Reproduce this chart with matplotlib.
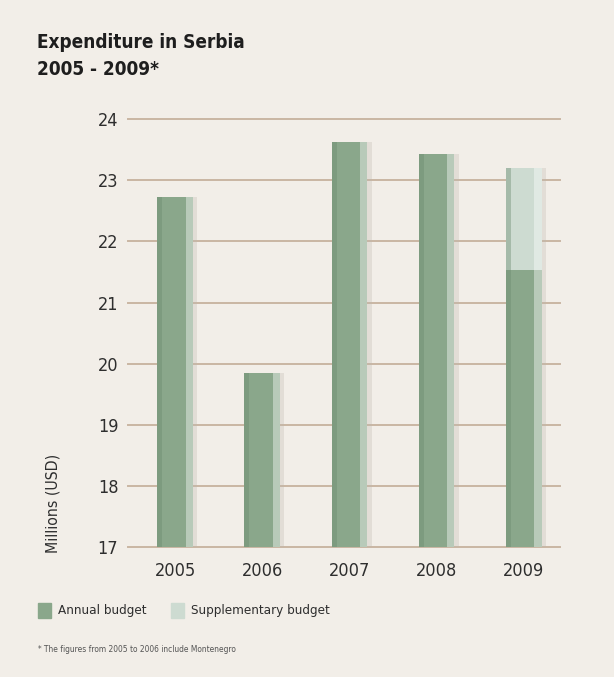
import numpy as np
import matplotlib.pyplot as plt

plt.rcParams['font.family'] = ['DejaVu Sans']
plt.rcParams['font.stretch'] = 'condensed'

# data
years = ['2005', '2006', '2007', '2008', '2009']
annual = [22.72, 19.84, 23.62, 23.43, 21.54]
supplementary = [0, 0, 0, 0, 1.66]
yticks = [17, 18, 19, 20, 21, 22, 23, 24]

base = 17
bg = '#f2eee8'
green = '#8aa78b'
light = '#cddbd1'
grid_col = '#c9b6a3'
txt = '#2e2e2e'

fig = plt.figure(figsize=(6.14, 6.77), dpi=100, facecolor=bg)
ax = fig.add_axes([0.2085, 0.192, 0.704, 0.632])
ax.set_facecolor(bg)

x = np.arange(len(years))
w = 0.41
annual_h = np.array(annual) - base
tops = np.array(annual) + np.array(supplementary)

# drop shadow on the right
ax.bar(x + 0.05, tops - base, w, bottom=base, color='#bdb7ae', alpha=0.3, zorder=2, linewidth=0)
ax.bar(x, annual_h, w, bottom=base, color=green, zorder=3, linewidth=0)
ax.bar(x, supplementary, w, bottom=annual, color=light, zorder=3, linewidth=0)

# soft shading on the bars: darker left edge, light strip on the right
ax.bar(x - w * 0.43, tops - base, w * 0.14, bottom=base, color='#6a8a6e', alpha=0.4, zorder=4, linewidth=0)
ax.bar(x + w * 0.4, tops - base, w * 0.2, bottom=base, color='white', alpha=0.4, zorder=4, linewidth=0)

ax.set_ylim(17, 24)
ax.set_xlim(-0.54, 4.42)
ax.set_yticks(yticks)
ax.set_yticklabels([str(t) for t in yticks], fontsize=13, color=txt)
ax.set_xticks(x)
ax.set_xticklabels(years, fontsize=13, color=txt)
ax.tick_params(axis='y', length=0, pad=7)
ax.tick_params(axis='x', length=0, pad=11)
for s in ax.spines.values():
    s.set_visible(False)
for t in yticks:
    ax.axhline(t, color=grid_col, lw=1.4, zorder=1, clip_on=False)

fig.text(0.086, 0.256, 'Millions (USD)', rotation=90, ha='center', va='center', fontsize=11.3, color=txt)

# title
fig.text(0.060, 0.929, 'Expenditure in Serbia', fontsize=13.6, fontweight='bold', color='#1e1e1e', va='baseline')
fig.text(0.060, 0.889, '2005 - 2009*', fontsize=13.6, fontweight='bold', color='#1e1e1e', va='baseline')

# legend
fig.patches.append(plt.Rectangle((0.062, 0.087), 0.021, 0.022, transform=fig.transFigure, color=green))
fig.text(0.0945, 0.098, 'Annual budget', fontsize=9.6, color=txt, va='center')
fig.patches.append(plt.Rectangle((0.2785, 0.087), 0.021, 0.022, transform=fig.transFigure, color=light))
fig.text(0.311, 0.098, 'Supplementary budget', fontsize=9.6, color=txt, va='center')

fig.text(0.062, 0.041, '* The figures from 2005 to 2006 include Montenegro', fontsize=6, color='#555555', va='center')

fig.savefig('out.png', dpi=100, facecolor=bg)
